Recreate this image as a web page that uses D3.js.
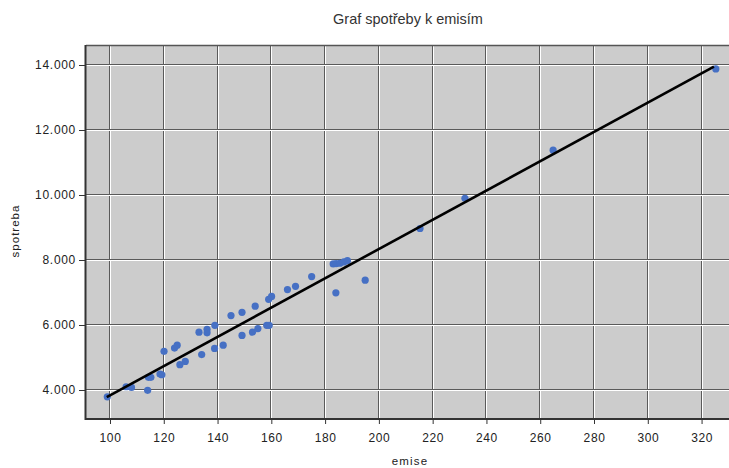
<!DOCTYPE html>
<html><head><meta charset="utf-8">
<script src="https://cdn.jsdelivr.net/npm/d3@7"></script>
<style>body{margin:0;background:#fff}svg{display:block}text{font-family:"Liberation Sans",Arial,sans-serif}</style>
</head><body><svg id="c" width="729" height="468"></svg>
<script>
const emise = [99,106,108,114,114.3,115.2,118.6,119.3,120.1,124,125,126,128,133.1,134.1,136.1,136.1,139,138.9,142.1,145,149.1,149.1,153,154,155,158.3,159.2,159,160.1,166,169,175,183,184.1,185.5,187,188.3,184,194.9,215.3,232,264.8,325.3];
const spotreba = [3.79,4.1,4.08,3.99,4.39,4.39,4.49,4.47,5.19,5.29,5.38,4.78,4.88,5.78,5.09,5.87,5.76,5.99,5.28,5.38,6.29,6.39,5.68,5.78,6.58,5.89,5.99,5.99,6.79,6.88,7.09,7.19,7.49,7.88,7.89,7.9,7.94,7.98,6.99,7.38,8.97,9.9,11.38,13.88];
const lineX = [98.8, 324.6];
const lineY = [3.78, 13.95];
const xTicks = [100,120,140,160,180,200,220,240,260,280,300,320];
const yTicks = [4,6,8,10,12,14];
const title = "Graf spotřeby k emisím";
const xTitle = "emise";
const yTitle = "spotreba";

const svg = d3.select("#c");
const L = 86, T = 46, R = 731, B = 419;
const x = d3.scaleLinear().domain([91.08, 330.2]).range([86, 729]);
const y = d3.scaleLinear().domain([3.117, 14.585]).range([418.7, 46]);

svg.append("rect").attr("x", L).attr("y", T).attr("width", R - L).attr("height", B - T).attr("fill", "#cccccc");

const g = svg.append("g");
xTicks.forEach(t => {
  const px = Math.round(x(t));
  g.append("line").attr("x1", px - 0.5).attr("x2", px - 0.5).attr("y1", T).attr("y2", B).attr("stroke", "#5a5a5a").attr("stroke-width", 1);
  g.append("line").attr("x1", px + 0.5).attr("x2", px + 0.5).attr("y1", T).attr("y2", B).attr("stroke", "#ffffff").attr("stroke-width", 1);
});
yTicks.forEach(t => {
  const py = Math.round(y(t));
  g.append("line").attr("y1", py - 0.5).attr("y2", py - 0.5).attr("x1", L).attr("x2", R).attr("stroke", "#5a5a5a").attr("stroke-width", 1);
  g.append("line").attr("y1", py + 0.5).attr("y2", py + 0.5).attr("x1", L).attr("x2", R).attr("stroke", "#ffffff").attr("stroke-width", 1);
});

// borders
svg.append("line").attr("x1", L).attr("x2", R).attr("y1", T - 0.5).attr("y2", T - 0.5).attr("stroke", "#555").attr("stroke-width", 1.5);
svg.append("line").attr("x1", L - 0.5).attr("x2", L - 0.5).attr("y1", T - 1).attr("y2", B + 1).attr("stroke", "#333").attr("stroke-width", 2);
svg.append("line").attr("x1", L - 1).attr("x2", R).attr("y1", B).attr("y2", B).attr("stroke", "#333").attr("stroke-width", 2);

// axes
const xAxis = d3.axisBottom(x).tickValues(xTicks).tickSize(5).tickPadding(9).tickFormat(d3.format("d"));
const xg = svg.append("g").attr("transform", `translate(0,${B})`).call(xAxis);
xg.select(".domain").remove();
xg.selectAll(".tick line").attr("stroke", "#333");
xg.selectAll(".tick text").attr("font-size", 12).attr("letter-spacing", 0.6).attr("fill", "#222");

const yAxis = d3.axisLeft(y).tickValues(yTicks).tickSize(6).tickPadding(3).tickFormat(d3.format(".3f"));
const yg = svg.append("g").attr("transform", `translate(${L - 1},0)`).call(yAxis);
yg.select(".domain").remove();
yg.selectAll(".tick line").attr("stroke", "#333");
yg.selectAll(".tick text").attr("font-size", 12).attr("letter-spacing", 0.7).attr("fill", "#222");

// points
svg.append("g").selectAll("circle").data(emise.map((e, i) => [e, spotreba[i]])).join("circle")
  .attr("cx", d => x(d[0])).attr("cy", d => y(d[1])).attr("r", 3.6).attr("fill", "#4670c4");

// regression line
svg.append("path").datum(lineX.map((e, i) => [e, lineY[i]]))
  .attr("d", d3.line().x(d => x(d[0])).y(d => y(d[1])))
  .attr("stroke", "#000").attr("stroke-width", 2.6).attr("fill", "none");

svg.append("text").attr("x", 408).attr("y", 24).attr("text-anchor", "middle").attr("font-size", 14.5).attr("fill", "#333").text(title);
svg.append("text").attr("x", 410).attr("y", 465).attr("text-anchor", "middle").attr("font-size", 11.5).attr("letter-spacing", 1.2).attr("fill", "#222").text(xTitle);
svg.append("text").attr("transform", "translate(19,231) rotate(-90)").attr("text-anchor", "middle").attr("font-size", 11.5).attr("letter-spacing", 1).attr("fill", "#222").text(yTitle);
</script></body></html>
